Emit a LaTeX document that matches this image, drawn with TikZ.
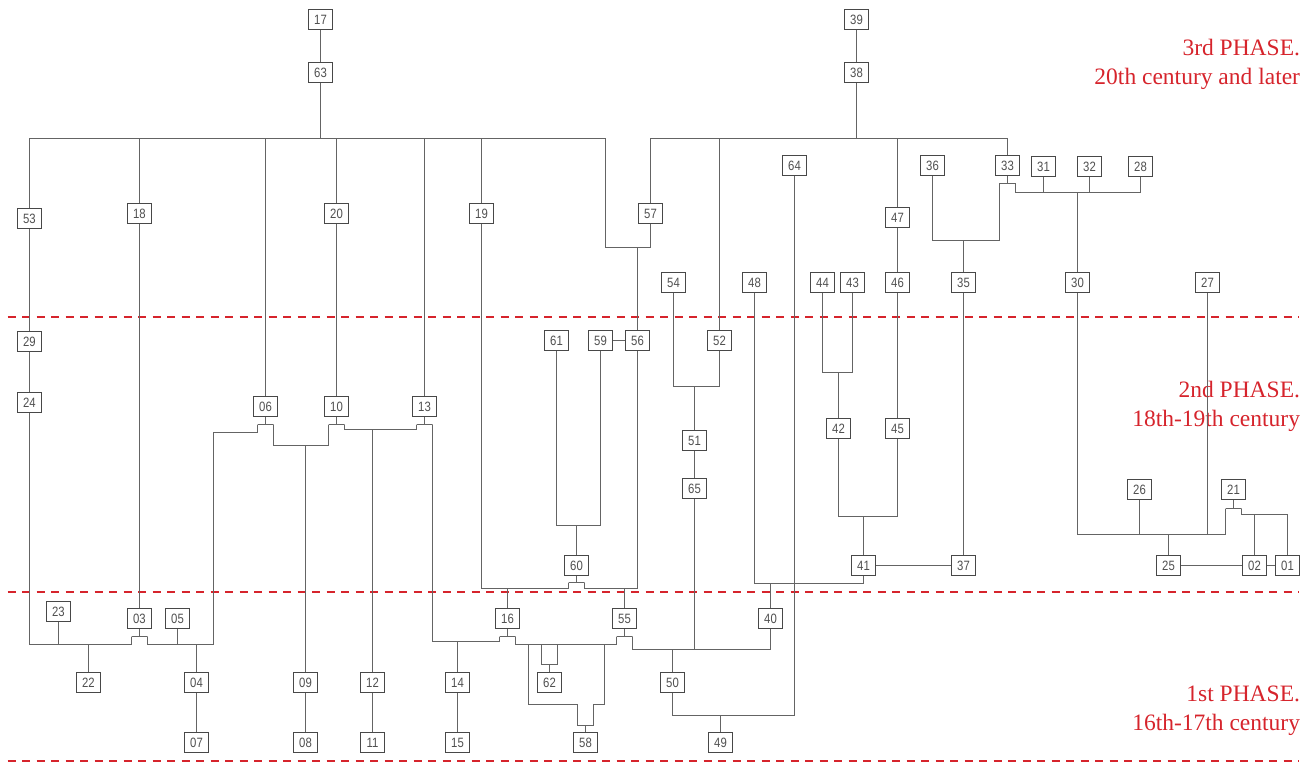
\documentclass[tikz,border=0pt]{standalone}
\usepackage{fontspec}
\setmainfont{Liberation Serif}
\newfontfamily\unitfont[FakeStretch=0.84]{Liberation Sans}
\usepackage{tikz}
\definecolor{phasered}{RGB}{214,36,44}
\definecolor{boxgray}{RGB}{72,72,72}
\definecolor{linegray}{RGB}{100,100,100}
\definecolor{textgray}{RGB}{80,80,80}
\tikzstyle{unit}=[draw=boxgray,fill=white,text=textgray,inner sep=0mm,minimum width=24pt,minimum height=20pt,font=\unitfont\fontsize{13.5}{14}\selectfont]
\tikzstyle{bar}=[draw=linegray,inner sep=0mm,outer sep=0mm,minimum width=16pt,minimum height=0pt]
\tikzstyle{phase}=[draw=phasered,line width=1.4,dash pattern=on 8pt off 6.5pt]
\tikzstyle{phasetext}=[text=phasered,anchor=base east,inner sep=0mm,font=\fontsize{23.5}{28}\selectfont]
\tikzset{every picture/.style={
    line width=1
  }
}

\begin{document}
\begin{tikzpicture}[x=1pt,y=-1pt,color=linegray]
      \useasboundingbox (0,0) rectangle (1311,762);
    \begin{scope}[shift={(0.5,0.5)}]
      % phase limits
      \draw[phase] (7,316.5) -- (1298,316.5);
      \draw[phase] (7,591.5) -- (1298,591.5);
      \draw[phase] (7,760.5) -- (1298,760.5);
      \node[phasetext] at (1300,55.5) (ph3a) {3rd PHASE.};
      \node[phasetext] at (1300,84) (ph3b) {20th century and later};
      \node[phasetext] at (1300,396.5) (ph2a) {2nd PHASE.};
      \node[phasetext] at (1300,425.5) (ph2b) {18th-19th century};
      \node[phasetext] at (1300,700.5) (ph1a) {1st PHASE.};
      \node[phasetext] at (1300,729.5) (ph1b) {16th-17th century};
      % units
      \node[unit] at (320,19) (u17) {17};
      \node[unit] at (320,72) (u63) {63};
      \node[unit] at (856,19) (u39) {39};
      \node[unit] at (856,72) (u38) {38};
      \node[unit] at (29,218) (u53) {53};
      \node[unit] at (139,213) (u18) {18};
      \node[unit] at (336,213) (u20) {20};
      \node[unit] at (481,213) (u19) {19};
      \node[unit] at (650,213) (u57) {57};
      \node[unit] at (897,217) (u47) {47};
      \node[unit] at (794,165) (u64) {64};
      \node[unit] at (932,165) (u36) {36};
      \node[unit] at (1007,165) (u33) {33};
      \node[unit] at (1043,166) (u31) {31};
      \node[unit] at (1089,166) (u32) {32};
      \node[unit] at (1140,166) (u28) {28};
      \node[unit] at (673,282) (u54) {54};
      \node[unit] at (754,282) (u48) {48};
      \node[unit] at (822,282) (u44) {44};
      \node[unit] at (852,282) (u43) {43};
      \node[unit] at (897,282) (u46) {46};
      \node[unit] at (963,282) (u35) {35};
      \node[unit] at (1077,282) (u30) {30};
      \node[unit] at (1207,282) (u27) {27};
      \node[unit] at (29,341) (u29) {29};
      \node[unit] at (556,340) (u61) {61};
      \node[unit] at (600,340) (u59) {59};
      \node[unit] at (637,340) (u56) {56};
      \node[unit] at (719,340) (u52) {52};
      \node[unit] at (29,402) (u24) {24};
      \node[unit] at (265,406) (u06) {06};
      \node[unit] at (336,406) (u10) {10};
      \node[unit] at (424,406) (u13) {13};
      \node[unit] at (838,428) (u42) {42};
      \node[unit] at (897,428) (u45) {45};
      \node[unit] at (694,440) (u51) {51};
      \node[unit] at (694,488) (u65) {65};
      \node[unit] at (1139,489) (u26) {26};
      \node[unit] at (1233,489) (u21) {21};
      \node[unit] at (576,565) (u60) {60};
      \node[unit] at (863,565) (u41) {41};
      \node[unit] at (963,565) (u37) {37};
      \node[unit] at (1168,565) (u25) {25};
      \node[unit] at (1254,565) (u02) {02};
      \node[unit] at (1287,565) (u01) {01};
      \node[unit] at (58,611) (u23) {23};
      \node[unit] at (139,618) (u03) {03};
      \node[unit] at (177,618) (u05) {05};
      \node[unit] at (507,618) (u16) {16};
      \node[unit] at (624,618) (u55) {55};
      \node[unit] at (770,618) (u40) {40};
      \node[unit] at (88,682) (u22) {22};
      \node[unit] at (196,682) (u04) {04};
      \node[unit] at (305,682) (u09) {09};
      \node[unit] at (372,682) (u12) {12};
      \node[unit] at (457,682) (u14) {14};
      \node[unit] at (549,682) (u62) {62};
      \node[unit] at (672,682) (u50) {50};
      \node[unit] at (196,742) (u07) {07};
      \node[unit] at (305,742) (u08) {08};
      \node[unit] at (372,742) (u11) {11};
      \node[unit] at (457,742) (u15) {15};
      \node[unit] at (585,742) (u58) {58};
      \node[unit] at (720,742) (u49) {49};
      % jogs
      \node[bar] at (265,424) (b06) {};
      \node[bar] at (336,424) (b10) {};
      \node[bar] at (424,424) (b13) {};
      \node[bar] at (139,636) (b03) {};
      \node[bar] at (507,636) (b16) {};
      \node[bar] at (624,636) (b55) {};
      \node[bar] at (576,582) (b60) {};
      \node[bar] at (1007,183) (b33) {};
      \node[bar] at (1233,508) (b21) {};
      \node[bar] at (549,664) (c62) {};
      \node[bar] at (585,725) (c58) {};
      % junctions
      \coordinate (busA) at (320,138);
      \coordinate (busB) at (856,138);
      \coordinate (k56) at (637,247);
      \coordinate (k42) at (838,372);
      \coordinate (k41) at (863,516);
      \coordinate (k40) at (770,583);
      \coordinate (k49) at (720,715);
      \coordinate (k50) at (672,649);
      \coordinate (k65) at (694,649);
      \coordinate (k51) at (694,386);
      \coordinate (k22) at (88,644);
      \coordinate (k04) at (196,644);
      \coordinate (k09) at (305,445);
      \coordinate (k12) at (372,429);
      \coordinate (k14) at (457,641);
      \coordinate (k16) at (507,588);
      \coordinate (k55) at (624,588);
      \coordinate (k60) at (576,525);
      \coordinate (j1) at (528,644);
      \coordinate (j4) at (604,644);
      \coordinate (k35) at (963,240);
      \coordinate (k30) at (1077,192);
      \coordinate (k25) at (1168,534);
      \coordinate (k02) at (1254,514);
      % top
      \draw (u17)--(u63);
      \draw (u39)--(u38);
      \draw (u63)--(busA);
      \draw (u53)|-(busA);
      \draw (u18)|-(busA);
      \draw (u06)|-(busA);
      \draw (u20)|-(busA);
      \draw (u13)|-(busA);
      \draw (u19)|-(busA);
      \draw (busA)-|(605,247)--(k56);
      \draw (k56)-|(u57);
      \draw (u56)--(k56);
      \draw (u38)--(busB);
      \draw (u57)|-(busB);
      \draw (u52)|-(busB);
      \draw (u47)|-(busB);
      \draw (u33)|-(busB);
      % middle
      \draw (u53)--(u29);
      \draw (u29)--(u24);
      \draw (u47)--(u46);
      \draw (u46)--(u45);
      \draw (u44)|-(k42)-|(u43);
      \draw (k42)--(u42);
      \draw (u42)|-(k41)-|(u45);
      \draw (k41)--(u41);
      \draw (u41)--(u37);
      \draw (u35)--(u37);
      \draw (u48)|-(k40)-|(u41);
      \draw (k40)--(u40);
      \draw (u64)|-(k49)-|(u50);
      \draw (k49)--(u49);
      \draw (b55.east)|-(k50)--(k65)-|(u40);
      \draw (k50)--(u50);
      \draw (u65)--(k65);
      \draw (u51)--(u65);
      \draw (u54)|-(k51)-|(u52);
      \draw (k51)--(u51);
      \draw (u59)--(u56);
      \draw (u61)|-(k60)-|(u59);
      \draw (k60)--(u60);
      \draw (u60)--(b60);
      \draw (u19)|-(k16)-|(b60.west);
      \draw (k16)--(u16);
      \draw (u56)|-(k55)-|(b60.east);
      \draw (k55)--(u55);
      % bottom
      \draw (u16)--(b16);
      \draw (u55)--(b55);
      \draw (b16.east)|-(j4)-|(b55.west);
      \draw (j1)|-(577,704)--(c58.west);
      \draw (j4)|-(593,704)--(c58.east);
      \draw (c62.west)--(c62.west|-j1);
      \draw (c62.east)--(c62.east|-j1);
      \draw (c62)--(u62);
      \draw (c58)--(u58);
      \draw (u13)--(b13);
      \draw (b13.east)|-(k14)-|(b16.west);
      \draw (k14)--(u14);
      \draw (u14)--(u15);
      \draw (u20)--(u10);
      \draw (u10)--(b10);
      \draw (b10.east)|-(k12)-|(b13.west);
      \draw (k12)--(u12);
      \draw (u12)--(u11);
      \draw (u06)--(b06);
      \draw (b06.east)|-(k09)-|(b10.west);
      \draw (k09)--(u09);
      \draw (u09)--(u08);
      \draw (b06.west)|-(213,432)|-(k04);
      \draw (b03.east)|-(k04);
      \draw (u05)|-(k04);
      \draw (k04)--(u04);
      \draw (u04)--(u07);
      \draw (u18)--(u03);
      \draw (u03)--(b03);
      \draw (u24)|-(k22)-|(b03.west);
      \draw (u23)|-(k22);
      \draw (k22)--(u22);
      % right
      \draw (u33)--(b33);
      \draw (b33.west)|-(k35)-|(u36);
      \draw (k35)--(u35);
      \draw (b33.east)|-(k30)-|(u28);
      \draw (u31)|-(k30);
      \draw (u32)|-(k30);
      \draw (k30)--(u30);
      \draw (u30)|-(k25)-|(b21.west);
      \draw (u26)|-(k25);
      \draw (u27)|-(k25);
      \draw (k25)--(u25);
      \draw (u21)--(b21);
      \draw (b21.east)|-(k02)-|(u01);
      \draw (k02)--(u02);
      \draw (u25)--(u02);
      \draw (u02)--(u01);
    \end{scope}
    \end{tikzpicture}
\end{document}
